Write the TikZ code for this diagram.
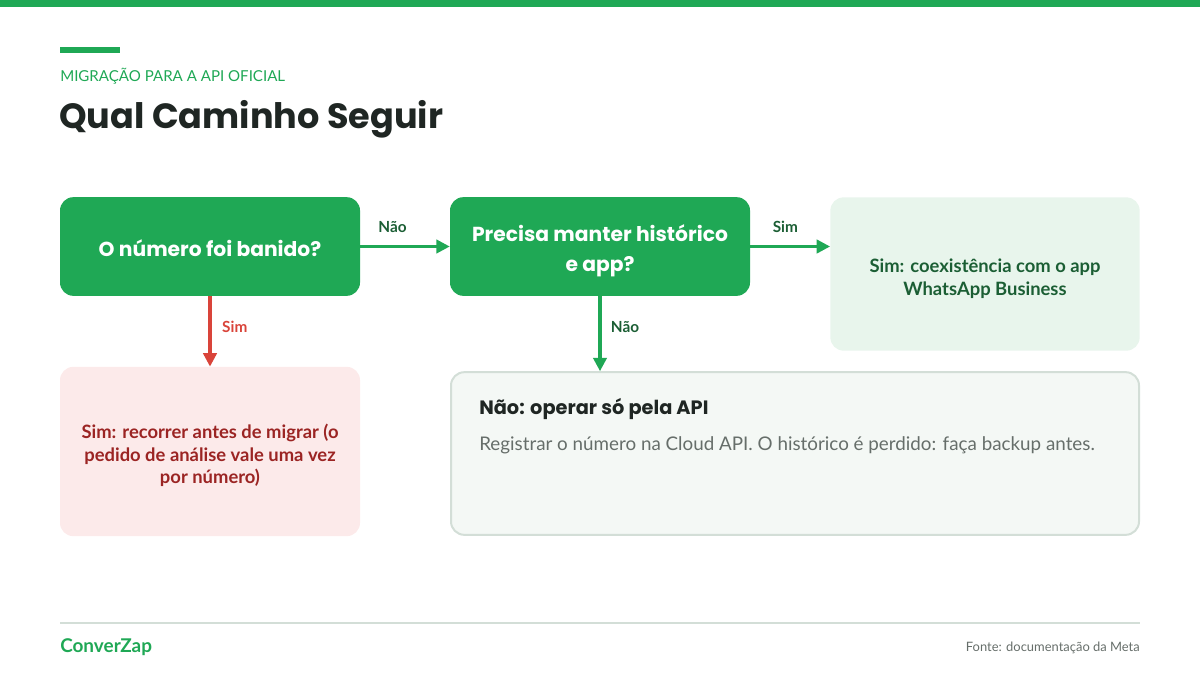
\documentclass[tikz,border=0pt]{standalone}
\usepackage{fontspec}
\setmainfont{Lato}
\newfontfamily\headfont{Poppins}
\usetikzlibrary{arrows.meta}

\definecolor{zapgreen}{HTML}{1FA855}
\definecolor{darkgreen}{HTML}{1B5E34}
\definecolor{palegreen}{HTML}{E8F5EC}
\definecolor{greybox}{HTML}{F4F8F5}
\definecolor{greyline}{HTML}{D3DED7}
\definecolor{palered}{HTML}{FCEAEA}
\definecolor{darkred}{HTML}{9B2423}
\definecolor{arrowred}{HTML}{D9443A}
\definecolor{inktext}{HTML}{1F2623}
\definecolor{bodygrey}{HTML}{666E6A}

\tikzset{
	question/.style={fill=zapgreen, rounded corners=10pt, minimum width=225pt,
		minimum height=74pt, inner sep=0pt},
	questiontext/.style={text=white, align=center, inner sep=0pt,
		font=\headfont\bfseries\fontsize{15.2pt}{22.5pt}\selectfont},
	answer/.style={rounded corners=10pt, inner sep=0pt},
	answertext/.style={align=center, inner sep=0pt,
		font=\bfseries\fontsize{13.8pt}{17pt}\selectfont},
	flow/.style={line width=2.3pt, -{Triangle[length=10pt,width=10pt]}},
	flowlabel/.style={font=\bfseries\fontsize{11.5pt}{13pt}\selectfont, inner sep=0pt}
}

\begin{document}
\begin{tikzpicture}[x=0.75pt, y=-0.75pt, line cap=butt]
	\useasboundingbox (0,0) rectangle (1200,675);
	
	% Top bar and heading
	\fill[zapgreen] (0,0) rectangle (1200,7);
	\fill[zapgreen] (60,47) rectangle (120,53);
	\node[anchor=base west, inner sep=0pt, text=zapgreen,
		font=\fontsize{11.3pt}{13pt}\selectfont] (kicker) at (60,81) {MIGRAÇÃO PARA A API OFICIAL};
	\node[anchor=base west, inner sep=0pt, text=inktext,
		font=\headfont\bfseries\fontsize{26.3pt}{30pt}\selectfont] (title) at (59,128) {Qual Caminho Seguir};
	
	% Decision boxes
	\node[question] (banido) at (210,246.5) {};
	\node[questiontext] (banidotext) at (210,248.5) {O número foi banido?};
	\node[question] (historico) at (600,246.5) {};
	\node[questiontext] (historicotext) at (600,251) {Precisa manter histórico\\e app?};
	
	% Outcome boxes
	\node[answer, fill=palegreen, minimum width=232pt, minimum height=115pt] (coexist) at (985,274) {};
	\node[answertext, text=darkgreen] (coexisttext) at (985,279) {Sim: coexistência com o app\\WhatsApp Business};
	\node[answer, fill=palered, minimum width=225pt, minimum height=127pt] (recorrer) at (210,451.5) {};
	\node[answertext, text=darkred] (recorrertext) at (210,455.5)
		{Sim: recorrer antes de migrar (o\\pedido de análise vale uma vez\\por número)};
	\node[answer, draw=greyline, fill=greybox, line width=1.5pt, minimum width=516pt,
		minimum height=122pt] (soapi) at (795,453.5) {};
	\node[anchor=base west, inner sep=0pt, text=inktext,
		font=\headfont\bfseries\fontsize{14.5pt}{17pt}\selectfont] (soapihead) at (479,414) {Não: operar só pela API};
	\node[anchor=base west, inner sep=0pt, text=bodygrey,
		font=\fontsize{14.1pt}{16pt}\selectfont] (soapibody) at (479,450)
		{Registrar o número na Cloud API. O histórico é perdido: faça backup antes.};
	
	% Connectors
	\draw[flow, zapgreen] (banido.east) -- (historico.west)
		node[pos=0.36, above=9pt, text=darkgreen, flowlabel] (nao1) {Não};
	\draw[flow, zapgreen] (historico.east) -- (coexist.west |- historico.east)
		node[pos=0.44, above=9pt, text=darkgreen, flowlabel] (sim2) {Sim};
	\draw[flow, arrowred] (banido.south) -- (recorrer.north)
		node[pos=0.44, right=8pt, text=arrowred, flowlabel] (sim1) {Sim};
	\draw[flow, zapgreen] (historico.south) -- (soapi.north -| historico.south)
		node[pos=0.41, right=7pt, text=darkgreen, flowlabel] (nao2) {Não};
	
	% Footer
	\draw[greyline, line width=1.2pt] (60,623) -- (1140,623);
	\node[anchor=base west, inner sep=0pt, text=zapgreen,
		font=\bfseries\fontsize{14.2pt}{15pt}\selectfont] (brand) at (60,652) {ConverZap};
	\node[anchor=base east, inner sep=0pt, text=bodygrey,
		font=\fontsize{9.7pt}{12pt}\selectfont] (fonte) at (1140,651) {Fonte: documentação da Meta};
\end{tikzpicture}
\end{document}
